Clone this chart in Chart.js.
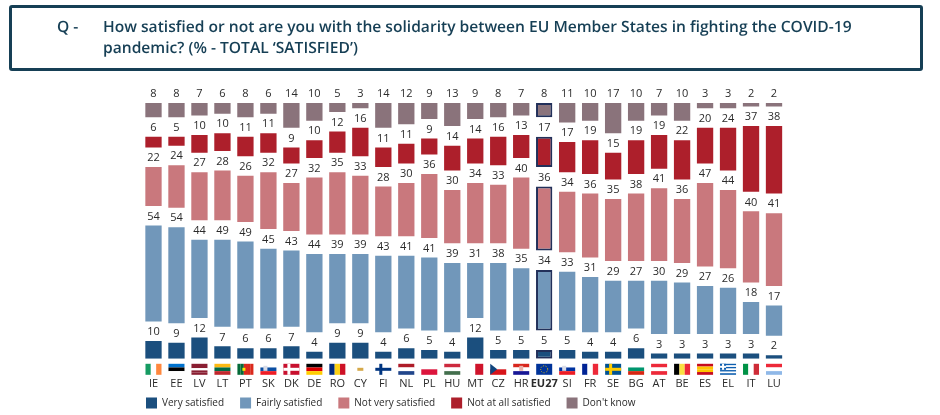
<!DOCTYPE html>
<html>
<head>
<meta charset="utf-8">
<title>Solidarity between EU Member States</title>
<script src="https://cdn.jsdelivr.net/npm/chart.js@4"></script>
<style>
    body { margin: 0; background: #fff; }
    #wrap { position: relative; width: 940px; height: 415px; overflow: hidden; font-family: "Open Sans", sans-serif; }
    #box { position: absolute; left: 9px; top: 5px; width: 908px; height: 60px; border: 3px solid #163f55; border-radius: 3px; }
    .q { position: absolute; color: #163f55; font-weight: 600; font-size: 15.6px; line-height: 21px; white-space: nowrap; text-rendering: geometricPrecision; }
    canvas { position: absolute; left: 0; top: 0; }
</style>
</head>
<body>
<div id="wrap">
    <canvas id="graph" width="940" height="415"></canvas>
    <div id="box"></div>
    <div class="q" style="left:57px; top:15.5px;">Q -</div>
    <div class="q" style="left:103px; top:15.5px;">How satisfied or not are you with the solidarity between EU Member States in fighting the COVID-19<br>pandemic? (% - TOTAL ‘SATISFIED’)</div>
</div>
<script>
// Valores
const categories = ['IE','EE','LV','LT','PT','SK','DK','DE','RO','CY','FI','NL','PL','HU','MT','CZ','HR','EU27','SI','FR','SE','BG','AT','BE','ES','EL','IT','LU'];
const verySatisfied = [10,9,12,7,6,6,7,4,9,9,4,6,5,4,12,5,5,5,5,4,4,6,3,3,3,3,3,2];
const fairlySatisfied = [54,54,44,49,49,45,43,44,39,39,43,41,41,39,31,38,35,34,33,31,29,27,30,29,27,26,18,17];
const notVerySatisfied = [22,24,27,28,26,32,27,32,35,33,28,30,36,30,34,33,40,36,34,36,35,38,41,36,47,44,40,41];
const notAtAllSatisfied = [6,5,10,10,11,11,9,10,12,16,11,11,9,14,14,16,13,17,17,19,15,19,19,22,20,24,37,38];
const dontKnow = [8,8,7,6,8,6,14,10,5,3,14,12,9,13,9,8,7,8,11,10,17,10,7,10,3,3,2,2];

const seriesNames = ['Very satisfied','Fairly satisfied','Not very satisfied','Not at all satisfied',"Don't know"];
const seriesValues = [verySatisfied, fairlySatisfied, notVerySatisfied, notAtAllSatisfied, dontKnow];
const seriesColors = ['#1b4f7e','#7197ba','#c9787d','#ad1f2b','#8a737b'];

// Bandeiras: direção das listras e cores
const flags = {
    IE: ['v','#169b62','#ffffff','#ff883e'], EE: ['h','#0072ce','#000000','#ffffff'],
    LV: ['h','#8a1e32','#8a1e32','#ffffff','#8a1e32','#8a1e32'], LT: ['h','#fdb913','#006a44','#c1272d'],
    PT: ['v','#046a38','#046a38','#da291c','#da291c','#da291c'], SK: ['h','#ffffff','#0b4ea2','#ee1c25'],
    DK: ['h','#c8102e'], DE: ['h','#000000','#dd0000','#ffce00'],
    RO: ['v','#002b7f','#fcd116','#ce1126'], CY: ['h','#ffffff'],
    FI: ['h','#ffffff'], NL: ['h','#ae1c28','#ffffff','#21468b'],
    PL: ['h','#ffffff','#dc143c'], HU: ['h','#cd2a3e','#ffffff','#436f4d'],
    MT: ['v','#ffffff','#cf142b'], CZ: ['h','#ffffff','#d7141a'],
    HR: ['h','#d8261d','#ffffff','#171796'], EU27: ['h','#003399'],
    SI: ['h','#ffffff','#0033a0','#ed1c24'], FR: ['v','#002395','#ffffff','#ed2939'],
    SE: ['h','#005293'], BG: ['h','#ffffff','#00966e','#d62612'],
    AT: ['h','#ed2939','#ffffff','#ed2939'], BE: ['v','#000000','#fae042','#ed2939'],
    ES: ['h','#c60b1e','#ffc400','#ffc400','#c60b1e'], EL: ['h','#0d5eaf','#ffffff','#0d5eaf','#ffffff','#0d5eaf','#ffffff','#0d5eaf'],
    IT: ['v','#009246','#ffffff','#ce2b37'], LU: ['h','#ed2939','#ffffff','#8fb8e8']
};
const flagCrosses = { DK: '#ffffff', FI: '#003580', SE: '#fecc00' };

const gap = 11; // espaço entre os blocos, para caber o número

// Cada bloco flutua sobre os anteriores, com o espaço entre eles
function floatingBars(index) {
    return categories.map((c, i) => {
        let start = 0;
        for (let s = 0; s < index; s++) start += seriesValues[s][i] + gap;
        return [start, start + seriesValues[index][i]];
    });
}

const datasets = seriesNames.map((name, s) => ({
    label: name,
    data: floatingBars(s),
    backgroundColor: seriesColors[s],
    borderColor: '#22305a',
    borderWidth: categories.map(c => c === 'EU27' ? 2 : 0),
    borderSkipped: false,
    barPercentage: 0.71,
    categoryPercentage: 1
}));

// Números em cima de cada bloco
const valueLabels = {
    id: 'valueLabels',
    afterDatasetsDraw(chart) {
        const ctx = chart.ctx;
        ctx.save();
        ctx.font = '11px "Open Sans"';
        ctx.fillStyle = '#2b2b2b';
        ctx.textAlign = 'center';
        ctx.textBaseline = 'middle';
        chart.data.datasets.forEach((ds, s) => {
            chart.getDatasetMeta(s).data.forEach((bar, i) => {
                ctx.fillText(seriesValues[s][i], bar.x, bar.y - 9);
            });
        });
        ctx.restore();
    }
};

// Bandeiras entre o eixo e os nomes dos países
const flagIcons = {
    id: 'flagIcons',
    afterDraw(chart) {
        const ctx = chart.ctx;
        const w = 16, h = 11;
        const top = chart.scales.x.top + 5;
        categories.forEach((c, i) => {
            const left = chart.scales.x.getPixelForValue(i) - w / 2;
            const f = flags[c];
            const stripes = f.slice(1);
            stripes.forEach((color, n) => {
                ctx.fillStyle = color;
                if (f[0] === 'h') ctx.fillRect(left, top + n * h / stripes.length, w, h / stripes.length);
                else ctx.fillRect(left + n * w / stripes.length, top, w / stripes.length, h);
            });
            if (flagCrosses[c]) {
                ctx.fillStyle = flagCrosses[c];
                ctx.fillRect(left + 4, top, 3, h);
                ctx.fillRect(left, top + 4, w, 3);
            }
            if (c === 'CZ') {
                ctx.fillStyle = '#11457e';
                ctx.beginPath();
                ctx.moveTo(left, top);
                ctx.lineTo(left + 7, top + h / 2);
                ctx.lineTo(left, top + h);
                ctx.fill();
            }
            if (c === 'EL') {
                ctx.fillStyle = '#0d5eaf';
                ctx.fillRect(left, top, 6, 6);
                ctx.fillStyle = '#ffffff';
                ctx.fillRect(left + 2, top, 2, 6);
                ctx.fillRect(left, top + 2, 6, 2);
            }
            if (c === 'EU27') {
                ctx.strokeStyle = '#ffcc00';
                ctx.setLineDash([1, 1.5]);
                ctx.beginPath();
                ctx.arc(left + w / 2, top + h / 2, 3.5, 0, Math.PI * 2);
                ctx.stroke();
                ctx.setLineDash([]);
            }
            if (c === 'CY') {
                ctx.fillStyle = '#d5a94a';
                ctx.fillRect(left + 5, top + 4, 6, 3);
            }
            if (c === 'PT') {
                ctx.fillStyle = '#ffe900';
                ctx.fillRect(left + 5, top + 4, 3, 3);
            }
            if (c === 'SK' || c === 'SI' || c === 'HR') {
                ctx.fillStyle = c === 'HR' ? '#e8b0a8' : '#d8dce8';
                ctx.fillRect(left + (c === 'HR' ? 6 : 3), top + 2, 4, 5);
            }
        });
    }
};

// A legenda fica logo abaixo dos nomes, sem o espaço todo do padding
const legendNudge = {
    id: 'legendNudge',
    afterLayout(chart) {
        chart.legend.top = chart.scales.x.bottom - 26.5;
    }
};

new Chart(document.getElementById('graph').getContext('2d'), {
    type: 'bar',
    data: { labels: categories, datasets: datasets },
    plugins: [valueLabels, flagIcons, legendNudge],
    options: {
        responsive: false,
        animation: false,
        layout: { padding: { left: 130, right: 154.5, top: 103, bottom: -30 } },
        scales: {
            x: {
                stacked: true,
                grid: { display: false, drawTicks: false },
                border: { display: false },
                ticks: {
                    padding: 18,
                    maxRotation: 0,
                    autoSkip: false,
                    color: '#2b2b2b',
                    font: ctx => ({ family: '"Open Sans"', size: 11, weight: categories[ctx.index] === 'EU27' ? 'bold' : 'normal' })
                }
            },
            y: {
                min: 0,
                max: 144,
                grid: { display: false },
                border: { display: false },
                ticks: { display: false },
                afterFit: scale => { scale.width = 12; }
            }
        },
        plugins: {
            tooltip: { enabled: false },
            legend: {
                position: 'bottom',
                align: 'start',
                labels: {
                    boxWidth: 11,
                    boxHeight: 11,
                    padding: 16,
                    color: '#2b2b2b',
                    font: { family: '"Open Sans"', size: 10 }
                }
            }
        }
    }
});
</script>
</body>
</html>
